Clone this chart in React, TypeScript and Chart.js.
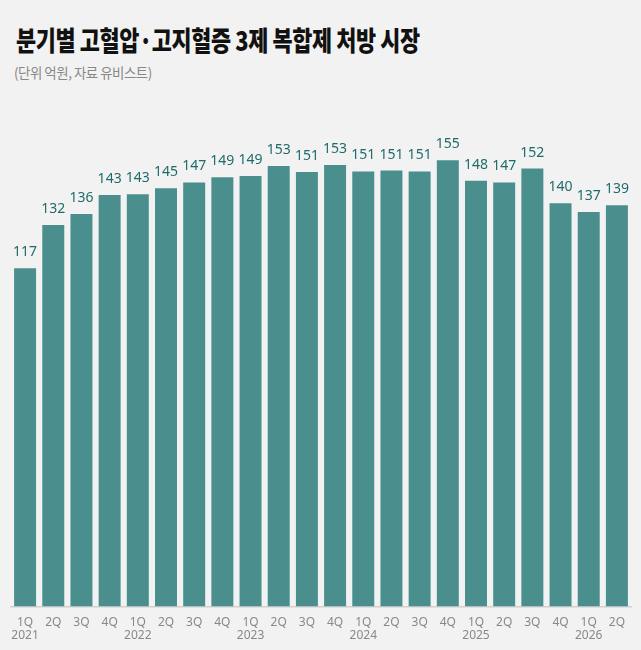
import { useEffect, useRef } from "react";
import { Chart, registerables } from "chart.js";
Chart.register(...registerables);

const quarters = ["1Q", "2Q", "3Q", "4Q", "1Q", "2Q", "3Q", "4Q", "1Q", "2Q", "3Q", "4Q", "1Q", "2Q", "3Q", "4Q", "1Q", "2Q", "3Q", "4Q", "1Q", "2Q"];
const years = ["2021", "", "", "", "2022", "", "", "", "2023", "", "", "", "2024", "", "", "", "2025", "", "", "", "2026", ""];
// 억원
const sales = [117.2, 132.2, 136.0, 142.6, 142.9, 145.0, 147.0, 148.8, 149.2, 152.7, 150.6, 153.0, 150.8, 151.1, 150.8, 154.7, 147.6, 147.0, 151.8, 139.8, 136.7, 139.1];

const valueLabels = {
  id: "valueLabels",
  afterDatasetsDraw(chart: Chart) {
    const ctx = chart.ctx;
    const meta = chart.getDatasetMeta(0);
    ctx.save();
    ctx.font = "14px 'Noto Sans', sans-serif";
    ctx.fillStyle = "#1f6b6b";
    ctx.textAlign = "center";
    ctx.textBaseline = "bottom";
    meta.data.forEach((bar: any, i: number) => {
      ctx.fillText(String(Math.round(sales[i])), bar.x, bar.y - 9);
    });
    ctx.restore();
  },
};

export default function App() {
  const ref = useRef<HTMLCanvasElement | null>(null);

  useEffect(() => {
    document.body.style.margin = "0";
    if (!ref.current) return;
    const chart = new Chart(ref.current, {
      type: "bar",
      data: {
        labels: quarters.map((q, i) => [q, years[i]]),
        datasets: [
          {
            data: sales,
            backgroundColor: "#4a8f8e",
            barPercentage: 0.78,
            categoryPercentage: 1,
          },
        ],
      },
      options: {
        animation: false,
        responsive: false,
        layout: { padding: { left: 11, right: 10, top: 116, bottom: 7 } },
        plugins: { legend: { display: false }, tooltip: { enabled: false } },
        scales: {
          x: {
            grid: { display: false },
            border: { display: true, color: "#d0d0d0", width: 1.5 },
            ticks: {
              color: "#888",
              font: { family: "'Noto Sans', sans-serif", size: 12, lineHeight: 1.1 },
              padding: 1,
              maxRotation: 0,
              autoSkip: false,
            },
          },
          y: { display: false, min: 0, max: 170 },
        },
      },
      plugins: [valueLabels],
    });
    return () => chart.destroy();
  }, []);

  return (
    <div style={{ position: "relative", width: 641, height: 650, background: "#f2f2f2", overflow: "hidden" }}>
      <div style={{ position: "absolute", left: 16, top: 20, fontFamily: "'Noto Sans CJK KR', sans-serif", fontWeight: 900, fontSize: 27, color: "#111", letterSpacing: -0.5, whiteSpace: "nowrap", transform: "scaleX(0.81)", transformOrigin: "left top" }}>
        분기별 고혈압·고지혈증 3제 복합제 처방 시장
      </div>
      <div style={{ position: "absolute", left: 14, top: 62, fontFamily: "'Noto Sans CJK KR', sans-serif", fontSize: 14, color: "#888", letterSpacing: -0.5, whiteSpace: "nowrap", transform: "scaleX(0.96)", transformOrigin: "left top" }}>
        (단위 억원, 자료 유비스트)
      </div>
      <canvas ref={ref} width={641} height={650} style={{ position: "absolute", left: 0, top: 0 }} />
    </div>
  );
}
